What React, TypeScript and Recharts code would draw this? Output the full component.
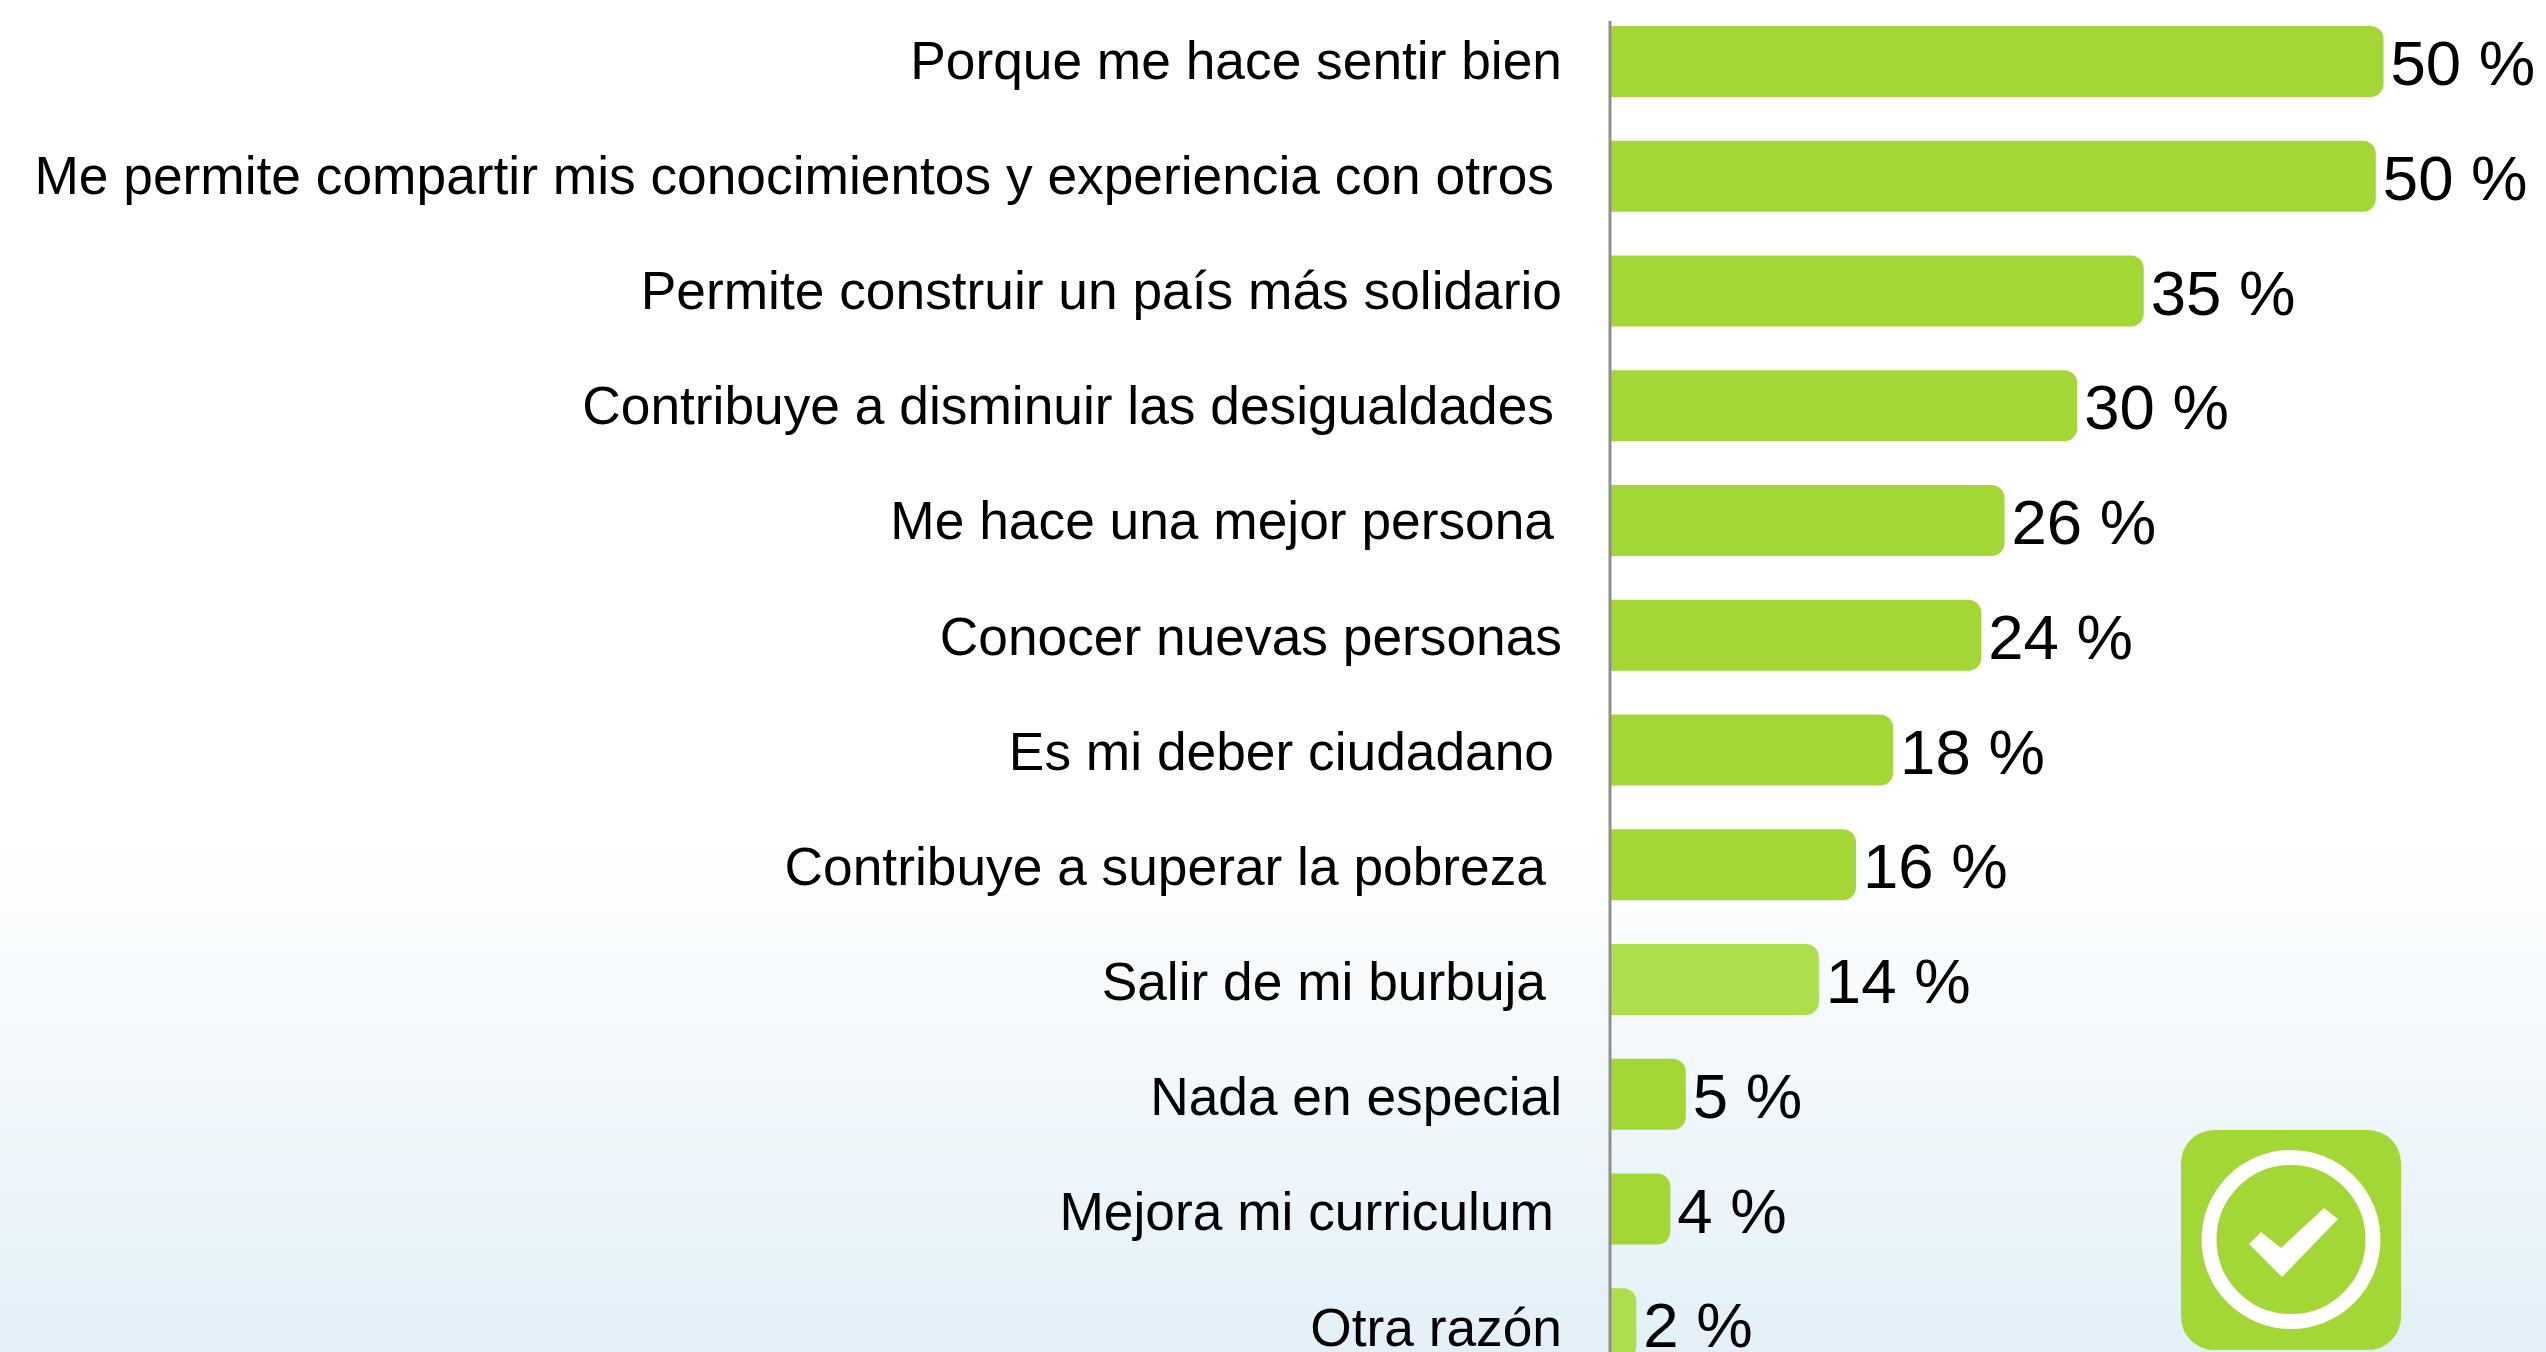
import { BarChart, Bar, Cell, XAxis, YAxis, LabelList } from 'recharts';

const CATEGORIES = [
  'Porque me hace sentir bien',
  'Me permite compartir mis conocimientos y experiencia con otros',
  'Permite construir un país más solidario',
  'Contribuye a disminuir las desigualdades',
  'Me hace una mejor persona',
  'Conocer nuevas personas',
  'Es mi deber ciudadano',
  'Contribuye a superar la pobreza',
  'Salir de mi burbuja',
  'Nada en especial',
  'Mejora mi curriculum',
  'Otra razón',
];
const VALUES = [50, 49.5, 34.5, 30.2, 25.5, 24, 18.3, 15.9, 13.5, 4.9, 3.9, 1.7];
const VALUE_LABELS = ['50 %', '50 %', '35 %', '30 %', '26 %', '24 %', '18 %', '16 %', '14 %', '5 %', '4 %', '2 %'];
const LIGHTER_BARS = ['Salir de mi burbuja', 'Otra razón'];

// the source labels end on uneven trailing whitespace
const TICK_INSET = [0, 1, 0, 1, 1, 0, 1, 2, 2, 0, 1, 0];

const GREEN = '#a3d735';
const GREEN_LIGHT = '#acde4e';
const FONT = '"Liberation Sans", Arial, sans-serif';

const chartData = CATEGORIES.map((name, i) => ({
  name,
  value: VALUES[i],
  label: VALUE_LABELS[i],
}));

function CategoryTick({ x, y, payload, index }: any) {
  return (
    <text
      x={x - TICK_INSET[index] * 8}
      y={y - 1 + index * 0.4}
      textAnchor="end"
      dominantBaseline="central"
      fontSize={53.3}
      fontFamily={FONT}
      fill="#000"
    >
      {payload.value}
    </text>
  );
}

function CheckBadge() {
  return (
    <svg width={222} height={222} style={{ position: 'absolute', left: 2180, top: 1129 }}>
      <rect x={1} y={1} width={220} height={220} rx={33} fill={GREEN} />
      <circle cx={111} cy={110.5} r={82} fill="none" stroke="#fff" strokeWidth={15} />
      <polygon points="69,115 81,103 101,119 144,79 158,90 102,148" fill="#fff" />
    </svg>
  );
}

export default function App() {
  return (
    <div
      style={{
        position: 'absolute',
        left: 0,
        top: 0,
        width: 2546,
        height: 1352,
        overflow: 'hidden',
        background: 'linear-gradient(to bottom, #ffffff 0, #ffffff 830px, #e3f0f8 1352px)',
      }}
    >
      <BarChart
        width={2546}
        height={1401}
        data={chartData}
        layout="vertical"
        margin={{ top: 21, right: 0, bottom: 20, left: 0 }}
        barCategoryGap={0}
      >
        <XAxis type="number" hide domain={[0, 60.5]} />
        <YAxis
          type="category"
          dataKey="name"
          width={1610}
          interval={0}
          padding={{ top: -17, bottom: 0 }}
          axisLine={{ stroke: '#8f8f8f', strokeWidth: 3 }}
          tickLine={false}
          tickMargin={0}
          tickSize={48}
          tick={CategoryTick}
        />
        <Bar dataKey="value" barSize={71} radius={[0, 13, 13, 0]} isAnimationActive={false}>
          {chartData.map((d) => (
            <Cell key={d.name} fill={LIGHTER_BARS.includes(d.name) ? GREEN_LIGHT : GREEN} />
          ))}
          <LabelList
            dataKey="label"
            position="right"
            offset={7}
            dy={1}
            fontSize={63.5}
            fontFamily={FONT}
            fill="#000"
          />
        </Bar>
      </BarChart>
      <CheckBadge />
    </div>
  );
}
